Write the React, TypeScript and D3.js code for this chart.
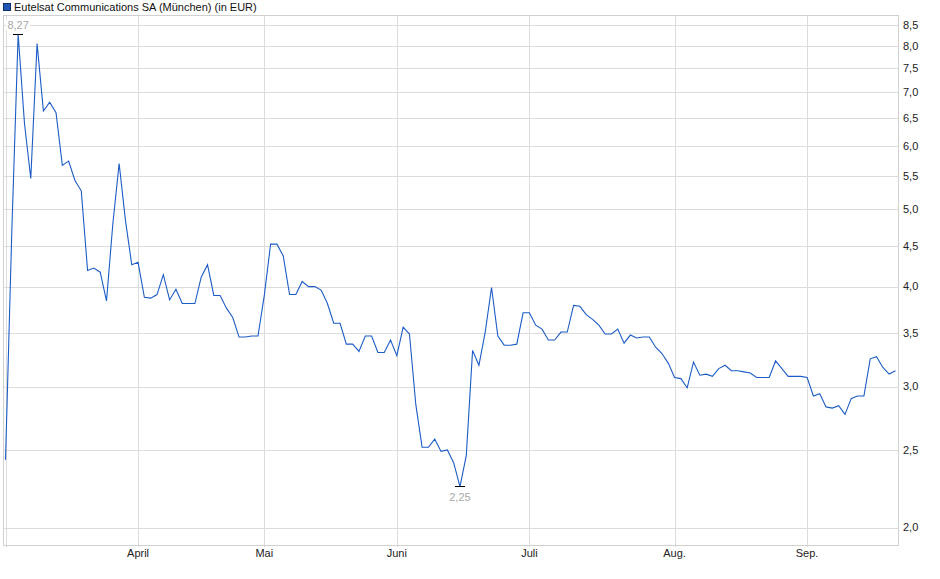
import * as d3 from "d3";

// daily closes, Munich, one entry per trading day (3 Mar - 19 Sep)
const closes = [
  2.43, 4.70, 8.27, 6.40, 5.46, 8.05, 6.63, 6.80, 6.60, 5.67,
  5.74, 5.43, 5.27, 4.19, 4.22, 4.17, 3.84, 4.79, 5.70, 4.84,
  4.26, 4.29, 3.88, 3.87, 3.91, 4.14, 3.85, 3.97, 3.81, 3.81,
  3.81, 4.11, 4.26, 3.90, 3.90, 3.76, 3.66, 3.46, 3.46, 3.47,
  3.47, 3.90, 4.52, 4.52, 4.37, 3.91, 3.91, 4.06, 4.00, 4.00,
  3.96, 3.81, 3.60, 3.60, 3.39, 3.39, 3.32, 3.47, 3.47, 3.31,
  3.31, 3.43, 3.28, 3.56, 3.49, 2.85, 2.52, 2.52, 2.58, 2.49,
  2.50, 2.41, 2.25, 2.46, 3.33, 3.19, 3.51, 3.99, 3.47, 3.38,
  3.38, 3.39, 3.71, 3.71, 3.58, 3.54, 3.43, 3.43, 3.51, 3.51,
  3.79, 3.78, 3.69, 3.64, 3.58, 3.49, 3.49, 3.54, 3.40, 3.48,
  3.45, 3.46, 3.46, 3.36, 3.30, 3.21, 3.08, 3.07, 2.99, 3.22,
  3.10, 3.11, 3.09, 3.16, 3.19, 3.14, 3.14, 3.13, 3.12, 3.08,
  3.08, 3.08, 3.23, 3.16, 3.09, 3.09, 3.09, 3.08, 2.92, 2.94,
  2.83, 2.82, 2.84, 2.77, 2.90, 2.92, 2.92, 3.25, 3.27, 3.17,
  3.11, 3.14,
];

// first trading day of each month (index into closes)
const monthIndex = [0, 21, 41, 62, 83, 106, 127];
const monthLabels = ["", "April", "Mai", "Juni", "Juli", "Aug.", "Sep."];

const yTicks = [2.0, 2.5, 3.0, 3.5, 4.0, 4.5, 5.0, 5.5, 6.0, 6.5, 7.0, 7.5, 8.0, 8.5];

const title = "Eutelsat Communications SA (München) (in EUR)";

const W = 940;
const H = 579;
const plot = { left: 3, right: 898, top: 15, bottom: 545 };
const FONT = "'Liberation Sans', Arial, sans-serif";
const LINE = "#1c5cc6";
const GRID = "#dcdcdc";

const de = d3.formatLocale({ decimal: ",", thousands: ".", grouping: [3], currency: ["", " €"] });
const fmt1 = de.format(".1f");
const fmt2 = de.format(".2f");

export default function App() {
  const x = d3.scaleLinear()
    .domain([-0.4, closes.length - 1 + 0.4])
    .range([plot.left, plot.right]);

  const y = d3.scaleLog()
    .domain([1.902, 8.74])
    .range([plot.bottom, plot.top]);

  const line = d3.line<number>()
    .x((_, i) => x(i))
    .y(d => y(d));

  const iMax = d3.maxIndex(closes);
  const iMin = d3.minIndex(closes);

  return (
    <svg
      width={W}
      height={H}
      style={{ position: "absolute", left: 0, top: 0, background: "#fff" }}
      fontFamily={FONT}
    >
      {/* title / legend */}
      <rect x={3.5} y={3.5} width={7} height={7} fill="#2256b4" stroke="#0d2c6b" />
      <text x={14} y={10.5} fontSize={11} fill="#111">{title}</text>

      {/* grid */}
      <g shapeRendering="crispEdges">
        {yTicks.map(t => (
          <line key={t} x1={plot.left} x2={plot.right} y1={Math.round(y(t)) + 0.5} y2={Math.round(y(t)) + 0.5} stroke={GRID} />
        ))}
        {monthIndex.map(m => (
          <line key={m} x1={Math.round(x(m)) + 0.5} x2={Math.round(x(m)) + 0.5} y1={plot.top} y2={plot.bottom + 2} stroke={GRID} />
        ))}
        <rect
          x={plot.left + 0.5}
          y={plot.top + 0.5}
          width={plot.right - plot.left}
          height={plot.bottom - plot.top}
          fill="none"
          stroke="#d0d0d0"
        />
      </g>

      {/* y axis labels (right) */}
      {yTicks.map(t => (
        <text key={t} x={plot.right + 5} y={y(t)} dy="0.35em" fontSize={11} fill="#222">
          {fmt1(t)}
        </text>
      ))}

      {/* x axis labels */}
      {monthIndex.map((m, i) => (
        <text key={m} x={x(m)} y={plot.bottom + 12} textAnchor="middle" fontSize={11} fill="#222">
          {monthLabels[i]}
        </text>
      ))}

      {/* price line */}
      <path d={line(closes) ?? ""} fill="none" stroke={LINE} strokeWidth={1.1} />

      {/* high marker */}
      <g>
        <rect x={x(iMax) - 12} y={y(closes[iMax]) - 15} width={24} height={11} fill="#fff" />
        <text x={x(iMax)} y={y(closes[iMax]) - 5} textAnchor="middle" fontSize={11} fill="#a8a8a8">
          {fmt2(closes[iMax])}
        </text>
        <line x1={x(iMax) - 5} x2={x(iMax) + 5} y1={y(closes[iMax])} y2={y(closes[iMax])} stroke="#000" shapeRendering="crispEdges" />
      </g>

      {/* low marker */}
      <g>
        <line x1={x(iMin) - 5} x2={x(iMin) + 5} y1={y(closes[iMin])} y2={y(closes[iMin])} stroke="#000" shapeRendering="crispEdges" />
        <text x={x(iMin)} y={y(closes[iMin]) + 14} textAnchor="middle" fontSize={11} fill="#a8a8a8">
          {fmt2(closes[iMin])}
        </text>
      </g>
    </svg>
  );
}
